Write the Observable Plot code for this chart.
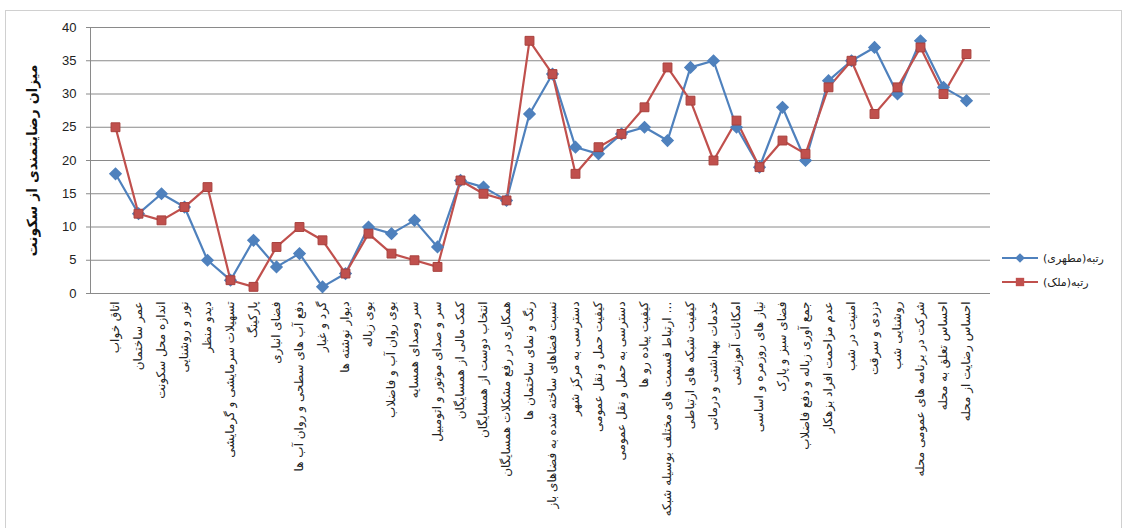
<!DOCTYPE html>
<html>
<head>
<meta charset="utf-8">
<script src="https://cdn.jsdelivr.net/npm/d3@7"></script>
<script src="https://cdn.jsdelivr.net/npm/@observablehq/plot@0.6"></script>
<style>
  html, body { margin: 0; padding: 0; background: #fff; }
  #wrap { position: relative; width: 1127px; height: 528px; overflow: hidden; }
  #frame { position: absolute; left: 5px; top: 10px; width: 1117px; height: 520px; border: 1px solid #d0d0d0; box-sizing: border-box; }
  #legend { position: absolute; left: 1000px; top: 246px; font-family: "DejaVu Sans", sans-serif; font-size: 11px; color: #222; }
  .item { display: flex; align-items: center; height: 24px; }
  .item span { margin-left: 3px; }
</style>
</head>
<body>
<div id="wrap">
  <div id="frame"></div>
  <div id="chart"></div>
  <div id="legend"></div>
</div>
<script>
const categories = [
  "اتاق خواب",
  "عمر ساختمان",
  "اندازه محل سکونت",
  "نور و روشنایی",
  "دیدو منظر",
  "تسهیلات سرمایشی و گرمایشی",
  "پارکینگ",
  "فضای انباری",
  "دفع آب های سطحی و روان آب ها",
  "گرد و غبار",
  "دیوار نوشته ها",
  "بوی زباله",
  "بوی روان آب و فاضلاب",
  "سر وصدای همسایه",
  "سر و صدای موتور و اتومبیل",
  "کمک مالی از همسایگان",
  "انتخاب دوست از همسایگان",
  "همکاری در رفع مشکلات همسایگان",
  "رنگ و نمای ساختمان ها",
  "نسبت فضاهای ساخته شده به فضاهای باز",
  "دسترسی به مرکز شهر",
  "کیفیت حمل و نقل عمومی",
  "دسترسی به حمل و نقل عمومی",
  "کیفیت پیاده رو ها",
  "ارتباط قسمت های مختلف بوسیله شبکه …",
  "کیفیت شبکه های ارتباطی",
  "خدمات بهداشتی و درمانی",
  "امکانات آموزشی",
  "نیاز های روزمره و اساسی",
  "فضای سبز و پارک",
  "جمع آوری زباله و دفع فاضلاب",
  "عدم مزاحمت افراد بزهکار",
  "امنیت در شب",
  "دزدی و سرقت",
  "روشنایی شب",
  "شرکت در برنامه های عمومی محله",
  "احساس تعلق به محله",
  "احساس رضایت از محله"
];
const seriesNames = ["رتبه(مطهری)", "رتبه(ملک)"];
const motahari = [18,12,15,13,5,2,8,4,6,1,3,10,9,11,7,17,16,14,27,33,22,21,24,25,23,34,35,25,19,28,20,32,35,37,30,38,31,29];
const malek    = [25,12,11,13,16,2,1,7,10,8,3,9,6,5,4,17,15,14,38,33,18,22,24,28,34,29,20,26,19,23,21,31,35,27,31,37,30,36];
const yTicks = [0,5,10,15,20,25,30,35,40];
const yTitle = "میزان رضایتمندی از سکونت";
const colors = ["#4F81BD", "#C0504D"];

const blueData = categories.map((c, i) => ({cat: c, value: motahari[i]}));
const redData = categories.map((c, i) => ({cat: c, value: malek[i]}));

const chart = Plot.plot({
  width: 1127,
  height: 528,
  marginLeft: 90,
  marginTop: 27,
  marginBottom: 235,
  marginRight: 137,
  style: {fontFamily: "DejaVu Sans, sans-serif", background: "transparent", overflow: "visible"},
  x: {type: "point", domain: categories, padding: 0.5, label: null},
  y: {domain: [0, 40], label: null},
  marks: [
    Plot.ruleY(yTicks, {stroke: "#8a8a8a", strokeWidth: 1}),
    Plot.frame({anchor: "left", stroke: "#8a8a8a"}),
    Plot.axisY({ticks: yTicks, tickSize: 4, tickPadding: 10, fontFamily: "Liberation Sans, sans-serif", fontSize: 13, label: null, stroke: "#8a8a8a", fill: "#222"}),
    Plot.axisX({tickRotate: -90, tickSize: 0, tickPadding: 8, fontFamily: "DejaVu Sans, sans-serif", fontSize: 12, label: null, fill: "#222"}),
    Plot.text([yTitle], {frameAnchor: "left", textAnchor: "middle", dx: -58, rotate: -90, fontWeight: "bold", fontSize: 14, fontFamily: "DejaVu Sans, sans-serif", fill: "#111"}),
    Plot.line(blueData, {x: "cat", y: "value", stroke: colors[0], strokeWidth: 2.2}),
    Plot.line(redData, {x: "cat", y: "value", stroke: colors[1], strokeWidth: 2.2}),
    Plot.dot(blueData, {x: "cat", y: "value", symbol: "diamond2", r: 5, fill: colors[0], stroke: colors[0]}),
    Plot.dot(redData, {x: "cat", y: "value", symbol: "square", r: 5, fill: colors[1], stroke: "#A8403D", strokeWidth: 1})
  ]
});
document.getElementById("chart").appendChild(chart);

// legend
const legend = d3.select("#legend");
const symbols = [d3.symbolDiamond2, d3.symbolSquare];
seriesNames.forEach((name, i) => {
  const item = legend.append("div").attr("class", "item");
  const svg = item.append("svg").attr("width", 40).attr("height", 14);
  svg.append("line").attr("x1", 2).attr("x2", 38).attr("y1", 7).attr("y2", 7).attr("stroke", colors[i]).attr("stroke-width", 2.2);
  svg.append("path").attr("transform", "translate(20,7)").attr("d", d3.symbol(symbols[i], i === 0 ? 60 : 70)()).attr("fill", colors[i]);
  item.append("span").text(name);
});
</script>
</body>
</html>
